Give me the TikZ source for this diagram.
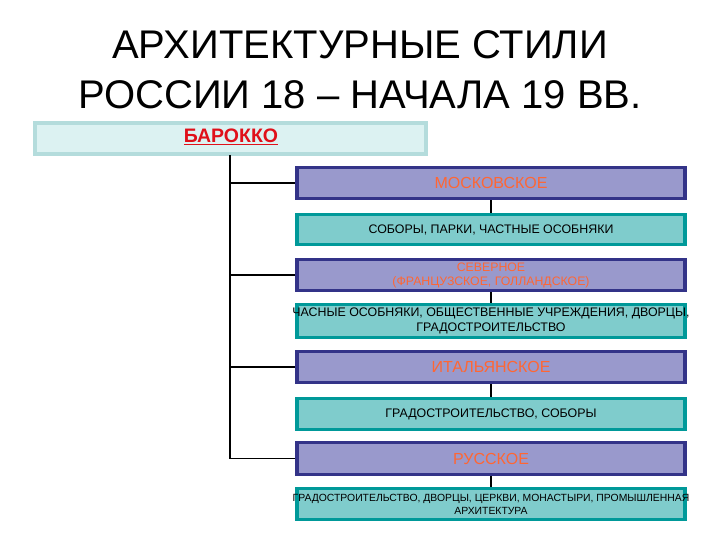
\documentclass[tikz,border=0pt]{standalone}
\usepackage{fontspec}
\setmainfont{Liberation Sans}
\definecolor{bfill}{HTML}{DCF2F2}
\definecolor{bdraw}{HTML}{B4DCDC}
\definecolor{pfill}{HTML}{9999CC}
\definecolor{pdraw}{HTML}{333388}
\definecolor{tfill}{HTML}{7FCCCC}
\definecolor{tdraw}{HTML}{009999}
\definecolor{otext}{HTML}{FF6633}
\definecolor{rtext}{HTML}{E0101A}
\newcommand{\ctrline}[1]{\makebox[370pt][c]{#1}}
\tikzset{
  x=1pt,y=-1pt,
  pbox/.style={draw=pdraw,fill=pfill,line width=3.5pt,minimum width=388pt,inner sep=0pt,text=otext,font=\fontsize{16}{17}\selectfont,align=center},
  tbox/.style={draw=tdraw,fill=tfill,line width=3.5pt,minimum width=388pt,inner sep=0pt,text=black,font=\fontsize{12.4}{14}\selectfont,align=center},
  conn/.style={line width=1.6pt,black}
}
\begin{document}
\begin{tikzpicture}
\useasboundingbox (0,0) rectangle (720,540);
\node[font=\fontsize{40}{50}\selectfont,align=center] (title) at (360,70) {АРХИТЕКТУРНЫЕ СТИЛИ\\РОССИИ 18 – НАЧАЛА 19 ВВ.};
\node[draw=bdraw,fill=bfill,line width=3.5pt,minimum width=391pt,minimum height=31pt,inner sep=0pt] (bar) at (230.5,138.5) {};
\node[text=rtext,font=\bfseries\fontsize{19.5}{21}\selectfont] (bartxt) at (231,137) {\underline{БАРОККО}};
\node[pbox,minimum height=31pt] (m) at (491,183) {МОСКОВСКОЕ};
\node[tbox,minimum height=30pt] (mc) at (491,229.5) {СОБОРЫ, ПАРКИ, ЧАСТНЫЕ ОСОБНЯКИ};
\node[pbox,minimum height=31pt,font=\fontsize{12.3}{14}\selectfont] (n) at (491,275) {СЕВЕРНОЕ\\(ФРАНЦУЗСКОЕ, ГОЛЛАНДСКОЕ)};
\node[tbox,minimum height=33pt,font=\fontsize{12.4}{15}\selectfont] (nc) at (491,321) {\ctrline{ЧАСНЫЕ ОСОБНЯКИ, ОБЩЕСТВЕННЫЕ УЧРЕЖДЕНИЯ, ДВОРЦЫ,}\\\ctrline{ГРАДОСТРОИТЕЛЬСТВО}};
\node[pbox,minimum height=31pt] (i) at (491,367) {ИТАЛЬЯНСКОЕ};
\node[tbox,minimum height=31pt] (ic) at (491,414) {ГРАДОСТРОИТЕЛЬСТВО, СОБОРЫ};
\node[pbox,minimum height=32pt] (r) at (491,458.5) {РУССКОЕ};
\node[tbox,minimum height=31pt,font=\fontsize{10.4}{13}\selectfont] (rc) at (491,504) {\ctrline{ГРАДОСТРОИТЕЛЬСТВО, ДВОРЦЫ, ЦЕРКВИ, МОНАСТЫРИ, ПРОМЫШЛЕННАЯ}\\\ctrline{АРХИТЕКТУРА}};
\coordinate (top) at (230,155);
\draw[conn] (top) |- (r.west);
\draw[conn] (230,183) -- (m.west);
\draw[conn] (230,275) -- (n.west);
\draw[conn] (230,367) -- (i.west);
\draw[conn] (m.south) -- (mc.north);
\draw[conn] (n.south) -- (nc.north);
\draw[conn] (i.south) -- (ic.north);
\draw[conn] (r.south) -- (rc.north);
\end{tikzpicture}
\end{document}
